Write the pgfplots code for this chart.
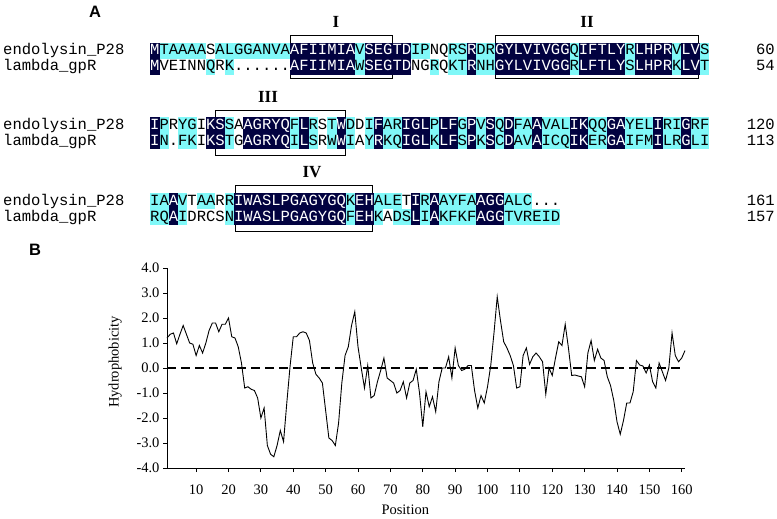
\documentclass[border=0pt]{standalone}
\usepackage{fontspec}
\setmainfont{Liberation Serif}
\setsansfont{Liberation Sans}
\setmonofont{Liberation Mono}
\usepackage{pgfplots}
\pgfplotsset{compat=1.18}
\definecolor{alnnavy}{RGB}{2,2,64}
\definecolor{alncyan}{RGB}{128,248,248}

\ExplSyntaxOn
\cs_new_protected:Npn \aln_cell:nn #1#2
  {
    \str_case:nnF {#1}
      {
        {n}{\hbox_overlap_right:n {\textcolor{alnnavy}{\rule[-4pt]{9.3196pt}{16pt}}}\textcolor{white}{#2}}
        {c}{\hbox_overlap_right:n {\textcolor{alncyan}{\rule[-4pt]{9.3196pt}{16pt}}}#2}
      }
      {#2}
  }
\cs_generate_variant:Nn \aln_cell:nn {xx}
\NewDocumentCommand \alnrow {mm}
  {
    \int_step_inline:nn {\str_count:n {#1}}
      { \aln_cell:xx {\str_item:nn {#2}{##1}} {\str_item:nn {#1}{##1}} }
  }
\ExplSyntaxOff

\newcommand\seqfont{\fontsize{15.53}{16}\selectfont\ttfamily}
\newcommand\romfont{\fontsize{17}{17}\selectfont\bfseries}
\newcommand\panfont{\fontsize{16.5}{16.5}\selectfont\sffamily\bfseries}

\begin{document}
\begin{tikzpicture}
\useasboundingbox (0pt,0pt) rectangle (777pt,-519pt);
% motif boxes
\draw[line width=0.9pt] (290pt,-35pt) rectangle (392pt,-78pt);
\draw[line width=0.9pt] (495pt,-35pt) rectangle (698pt,-78pt);
\draw[line width=0.9pt] (215pt,-110pt) rectangle (345pt,-155pt);
\draw[line width=0.9pt] (235pt,-185pt) rectangle (372pt,-231pt);
% labels
\node[font=\panfont] at (95pt,-12pt) {A};
\node[font=\panfont] at (35pt,-250pt) {B};
\node[font=\romfont] at (336pt,-22pt) {I};
\node[font=\romfont] at (587pt,-22pt) {II};
\node[font=\romfont] at (268pt,-97pt) {III};
\node[font=\romfont] at (312pt,-172pt) {IV};
% block 1
\node[anchor=base west,inner sep=0pt,font=\seqfont] at (3pt,-55pt) {endolysin\_P28};
\node[anchor=base west,inner sep=0pt,font=\seqfont] at (3pt,-71pt) {lambda\_gpR};
\node[anchor=base west,inner sep=0pt,font=\seqfont] at (150pt,-55pt)
  {\alnrow{MTAAAASALGGANVAAFIIMIAVSEGTDIPNQRSRDRGYLVIVGGQIFTLYRLHPRVLVS}{ncccccwccccccccnnnnnnncnnnnnccCwccnccnnnnnnnncnnnnncnnnncnnc}};
\node[anchor=base west,inner sep=0pt,font=\seqfont] at (150pt,-71pt)
  {\alnrow{MVEINNQRK......AFIIMIAWSEGTDNGRQKTRNHGYLVIVGGRLFTLYSLHPRKLVT}{nwwwwwcwcwwwwwwnnnnnnncnnnnnwwcwccnccnnnnnnnncnnnnncnnnncnnc}};
\node[anchor=base east,inner sep=0pt,font=\seqfont] at (775pt,-55pt) {60};
\node[anchor=base east,inner sep=0pt,font=\seqfont] at (775pt,-71pt) {54};
% block 2
\node[anchor=base west,inner sep=0pt,font=\seqfont] at (3pt,-129pt) {endolysin\_P28};
\node[anchor=base west,inner sep=0pt,font=\seqfont] at (3pt,-145pt) {lambda\_gpR};
\node[anchor=base west,inner sep=0pt,font=\seqfont] at (150pt,-129pt)
  {\alnrow{IPRYGIKSSAAGRYQFLRSTWDDIFARIGLPLFGPVSQDFAAVALIKQQGAYELIRIGRF}{ncwccwnncwnnnnncncwcncwcnccnnncnncncncnccncccnnccnncccnccncc}};
\node[anchor=base west,inner sep=0pt,font=\seqfont] at (150pt,-145pt)
  {\alnrow{IN.FKIKSTGAGRYQILSRWWIAYRKQIGLKLFSPKSCDAVAICQIKERGAIFMILRGLI}{ncwccwnncwnnnnncncwcncwcnccnnncnncncncnccncccnnccnncccnccncc}};
\node[anchor=base east,inner sep=0pt,font=\seqfont] at (775pt,-129pt) {120};
\node[anchor=base east,inner sep=0pt,font=\seqfont] at (775pt,-145pt) {113};
% block 3
\node[anchor=base west,inner sep=0pt,font=\seqfont] at (3pt,-205pt) {endolysin\_P28};
\node[anchor=base west,inner sep=0pt,font=\seqfont] at (3pt,-221pt) {lambda\_gpR};
\node[anchor=base west,inner sep=0pt,font=\seqfont] at (150pt,-205pt)
  {\alnrow{IAAVTAARRIWASLPGAGYGQKEHALETIRAAYFAAGGALC...}{ccncwccwcnnnnnnnnnnnncnncccwncnccccnnncccwww}};
\node[anchor=base west,inner sep=0pt,font=\seqfont] at (150pt,-221pt)
  {\alnrow{RQAIDRCSNIWASLPGAGYGQFEHKADSLIAKFKFAGGTVREID}{ccncwwwwcnnnnnnnnnnnncnncwccncnccccnnncccccc}};
\node[anchor=base east,inner sep=0pt,font=\seqfont] at (775pt,-205pt) {161};
\node[anchor=base east,inner sep=0pt,font=\seqfont] at (775pt,-221pt) {157};
% panel B
\begin{axis}[
  at={(167pt,-468pt)}, anchor=south west,
  scale only axis, width=518pt, height=200pt,
  xmin=1, xmax=161, ymin=-4, ymax=4,
  axis lines*=left,
  axis line style={line width=0.8pt},
  xtick={10,20,...,160}, ytick={-4,-3,...,4},
  tick align=outside, major tick length=4pt,
  tick style={line width=0.8pt, black},
  ticklabel style={font=\fontsize{14.5}{14.5}\selectfont},
  xticklabel style={yshift=-9pt},
  yticklabel style={/pgf/number format/.cd, fixed, fixed zerofill, precision=1},
  /pgf/number format/assume math mode=true,
  xlabel={Position}, ylabel={Hydrophobicity},
  label style={font=\fontsize{14.5}{14.5}\selectfont},
  xlabel style={at={(axis description cs:0.46,-0.21)}, anchor=center},
  ylabel style={at={(axis description cs:-0.1,0.53)}, anchor=center},
  clip=false,
]
\addplot[black, line width=1.1pt, dash pattern=on 9pt off 5pt] coordinates {(1,0) (161,0)};
\addplot[black, line width=0.9pt] coordinates {
(1,1.2) (2,1.35) (3,1.4) (4,0.97) (5,1.35) (6,1.7) (7,1.35) (8,1.0) (9,0.95) (10,0.5)
(11,0.9) (12,0.6) (13,1.0) (14,1.5) (15,1.8) (16,1.8) (17,1.45) (18,1.75) (19,1.75) (20,2.0)
(21,1.25) (22,1.2) (23,0.85) (24,0.2) (25,-0.8) (26,-0.75) (27,-0.85) (28,-0.9) (29,-1.2) (30,-2.0)
(31,-1.6) (32,-3.1) (33,-3.45) (34,-3.55) (35,-3.1) (36,-2.5) (37,-2.95) (38,-1.4) (39,0.05) (40,1.25)
(41,1.25) (42,1.4) (43,1.45) (44,1.4) (45,1.1) (46,0.2) (47,-0.25) (48,-0.4) (49,-0.6) (50,-1.7)
(51,-2.8) (52,-2.9) (53,-3.1) (54,-2.2) (55,-0.6) (56,0.5) (57,0.85) (58,1.7) (59,2.25) (60,0.85)
(61,0.0) (62,-0.8) (63,0.1) (64,-1.2) (65,-1.1) (66,-0.55) (67,-0.1) (68,0.4) (69,-0.4) (70,-0.5)
(71,-0.6) (72,-1.0) (73,-0.9) (74,-0.55) (75,-1.2) (76,-0.6) (77,-0.5) (78,-0.05) (79,-1.0) (80,-2.35)
(81,-0.95) (82,-1.55) (83,-1.15) (84,-1.75) (85,-0.55) (86,0.0) (87,0.0) (88,0.45) (89,-0.4) (90,0.8)
(91,0.1) (92,-0.1) (93,-0.05) (94,0.1) (95,0.1) (96,-0.9) (97,-1.6) (98,-1.1) (99,-1.4) (100,-0.75)
(101,0.1) (102,1.4) (103,2.85) (104,1.9) (105,1.05) (106,0.8) (107,0.5) (108,0.1) (109,-0.8) (110,-0.75)
(111,0.5) (112,0.8) (113,0.15) (114,0.45) (115,0.6) (116,0.45) (117,0.25) (118,-1.05) (119,0.0) (120,-0.3)
(121,0.4) (122,1.05) (123,0.9) (124,1.75) (125,0.8) (126,-0.3) (127,-0.28) (128,-0.32) (129,-0.35) (130,-0.75)
(131,0.6) (132,1.1) (133,0.3) (134,0.75) (135,0.4) (136,0.3) (137,-0.35) (138,-0.7) (139,-1.3) (140,-2.15)
(141,-2.65) (142,-2.1) (143,-1.4) (144,-1.4) (145,-0.95) (146,0.3) (147,0.12) (148,0.08) (149,-0.2) (150,0.12)
(151,-0.55) (152,-0.8) (153,0.2) (154,-0.15) (155,-0.5) (156,0.0) (157,1.4) (158,0.5) (159,0.25) (160,0.4)
(161,0.7)
};
\end{axis}
\end{tikzpicture}
\end{document}
